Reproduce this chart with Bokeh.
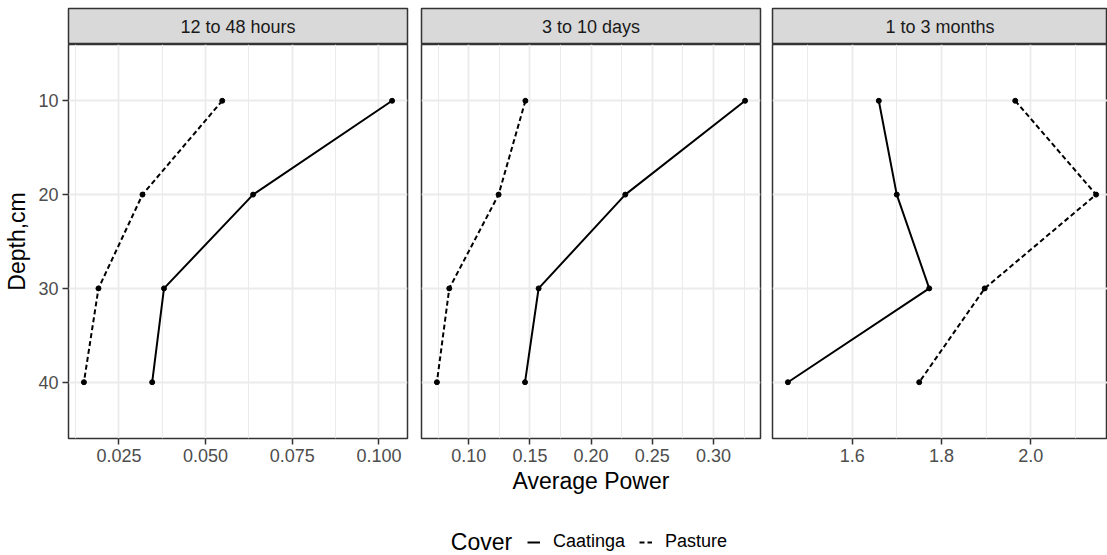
from bokeh.plotting import figure
from bokeh.layouts import row, column
from bokeh.models import Range1d, FixedTicker, NumeralTickFormatter, Label, Legend, LegendItem
from bokeh.embed import file_html
from bokeh.resources import INLINE

# ---------------- data ----------------
depth = [10, 20, 30, 40]
depth_ticks = [10, 20, 30, 40]
panels = ["12 to 48 hours", "3 to 10 days", "1 to 3 months"]
covers = ["Caatinga", "Pasture"]

caatinga_12_48h = [0.1038, 0.0637, 0.0380, 0.0346]
pasture_12_48h = [0.0548, 0.0318, 0.0191, 0.0149]
caatinga_3_10d = [0.3258, 0.2279, 0.1571, 0.1460]
pasture_3_10d = [0.1463, 0.1244, 0.0841, 0.0740]
caatinga_1_3m = [1.6595, 1.6997, 1.7724, 1.4560]
pasture_1_3m = [1.9650, 2.1460, 1.8966, 1.7500]

caatinga = [caatinga_12_48h, caatinga_3_10d, caatinga_1_3m]
pasture = [pasture_12_48h, pasture_3_10d, pasture_1_3m]

x_ticks = [[0.025, 0.050, 0.075, 0.100],
           [0.10, 0.15, 0.20, 0.25, 0.30],
           [1.6, 1.8, 2.0]]
x_formats = ["0.000", "0.00", "0.0"]

x_title = "Average Power"
y_title = "Depth,cm"
legend_title = "Cover"

# ---------------- style ----------------
FONT = "Liberation Sans"
GRID = "#EBEBEB"
DARK = "#333333"
TICKTXT = "#4D4D4D"

frame_w = [339, 339, 335]
frame_full = 339
border_l = [68, 7, 6]
border_r = [7, 6, 0]
FRAME_H = 394
STRIP_H = 36
BOTTOM = 62

cols = []
for i in range(3):
    allx = caatinga[i] + pasture[i]
    mn, mx = min(allx), max(allx)
    span = mx - mn
    lo, hi = mn - 0.05 * span, mx + 0.05 * span
    hi = lo + (hi - lo) * frame_w[i] / frame_full
    ylo, yhi = min(depth) - 6, max(depth) + 6

    strip = figure(frame_width=frame_w[i], frame_height=STRIP_H,
                   min_border_left=border_l[i], min_border_right=border_r[i],
                   min_border_top=8, min_border_bottom=0,
                   x_range=Range1d(0, 1), y_range=Range1d(0, 1),
                   x_axis_location=None, y_axis_location=None,
                   toolbar_location=None, output_backend="svg", title=None)
    strip.grid.visible = False
    strip.background_fill_color = "#D9D9D9"
    strip.outline_line_color = DARK
    strip.outline_line_width = 1.5
    strip.add_layout(Label(x=0.5, y=0.5, text=panels[i], text_align="center",
                           text_baseline="middle", text_font=FONT,
                           text_font_size="18px", text_color="#1A1A1A"))

    p = figure(frame_width=frame_w[i], frame_height=FRAME_H,
               min_border_left=border_l[i], min_border_right=border_r[i],
               min_border_top=0, min_border_bottom=BOTTOM,
               x_range=Range1d(lo, hi), y_range=Range1d(yhi, ylo),
               toolbar_location=None, output_backend="svg", title=None)
    p.background_fill_color = "white"
    p.border_fill_color = "white"
    p.outline_line_color = DARK
    p.outline_line_width = 1.5

    step = x_ticks[i][1] - x_ticks[i][0]
    minors = []
    m = x_ticks[i][0] - step / 2
    while m > lo:
        m -= step
    while m < hi:
        if lo < m < hi:
            minors.append(round(m, 6))
        m += step
    xt = FixedTicker(ticks=x_ticks[i], minor_ticks=minors)
    p.xaxis.ticker = xt
    p.xgrid.ticker = xt
    p.xaxis.formatter = NumeralTickFormatter(format=x_formats[i])
    yt = FixedTicker(ticks=depth_ticks)
    p.yaxis.ticker = yt
    p.ygrid.ticker = yt

    p.xgrid.grid_line_color = GRID
    p.xgrid.grid_line_width = 1.8
    p.xgrid.minor_grid_line_color = GRID
    p.xgrid.minor_grid_line_width = 1.1
    p.ygrid.grid_line_color = GRID
    p.ygrid.grid_line_width = 1.8

    for ax in [p.xaxis, p.yaxis]:
        ax.axis_line_color = None
        ax.major_tick_line_color = DARK
        ax.major_tick_line_width = 1.5
        ax.major_tick_out = 6
        ax.major_tick_in = 0
        ax.minor_tick_line_color = None
        ax.major_label_text_font = FONT
        ax.major_label_text_font_size = "18px"
        ax.major_label_text_color = TICKTXT
        ax.major_label_standoff = 4
        ax.axis_label_text_font = FONT
        ax.axis_label_text_font_size = "23px"
        ax.axis_label_text_font_style = "normal"
        ax.axis_label_text_color = "black"
    if i == 0:
        p.yaxis.axis_label = y_title
        p.yaxis.axis_label_standoff = 5
        p.yaxis.major_label_standoff = 4
    else:
        p.yaxis.visible = False
    if i == 1:
        p.xaxis.axis_label = x_title
        p.xaxis.axis_label_standoff = 3

    p.line(caatinga[i], depth, line_color="black", line_width=2)
    p.line(pasture[i], depth, line_color="black", line_width=2, line_dash="5 3")
    p.scatter(caatinga[i], depth, size=5, color="black")
    p.scatter(pasture[i], depth, size=5, color="black")

    cols.append(column(strip, p, spacing=0))

top = row(*cols, spacing=0)

leg = figure(width=1107, height=55, x_range=Range1d(0, 1107), y_range=Range1d(0, 55),
             min_border=0, x_axis_location=None, y_axis_location=None,
             toolbar_location=None, output_backend="svg", title=None)
leg.grid.visible = False
leg.outline_line_color = None
# key-only renderers, placed outside the visible range
r1 = leg.line(x=[-50, -40], y=[-50, -50], line_color="black", line_width=2)
r2 = leg.line(x=[-50, -40], y=[-50, -50], line_color="black", line_width=2, line_dash="5 3")
legend = Legend(items=[LegendItem(label=covers[0], renderers=[r1]),
                       LegendItem(label=covers[1], renderers=[r2])],
                orientation="horizontal", location=(527, 3),
                glyph_width=13, glyph_height=20, label_height=20,
                label_standoff=13, spacing=14, padding=0, margin=0,
                border_line_color=None, background_fill_alpha=0,
                label_text_font=FONT, label_text_font_size="18px",
                label_text_color="black")
leg.add_layout(legend)
leg.add_layout(Label(x=481, y=13.3, text=legend_title, text_align="center",
                     text_baseline="middle", text_font=FONT,
                     text_font_size="23px", text_color="black"))

layout = column(top, leg, spacing=0)

open("out.html", "w").write(file_html(layout, INLINE))
